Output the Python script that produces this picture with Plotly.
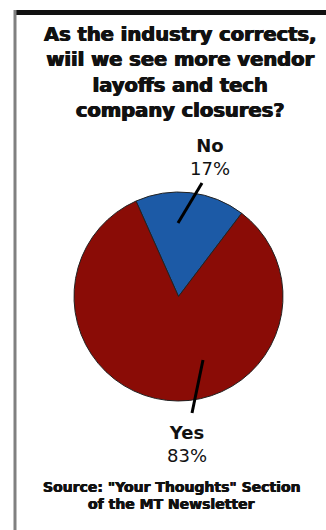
import plotly.graph_objects as go

labels = ["No", "Yes"]
values = [17, 83]
colors = ["#1C5AA6", "#8A0C06"]
title_lines = ["As the industry corrects,", "wiil we see more vendor", "layoffs and tech", "company closures?"]
source_lines = ['Source: "Your Thoughts" Section', "of the MT Newsletter"]

W, H = 326, 530

def px(x):
    return x / W

def py(y):
    return 1 - y / H

fig = go.Figure()
fig.add_trace(go.Pie(
    labels=labels, values=values, sort=False, direction="clockwise",
    rotation=-24,
    marker=dict(colors=colors, line=dict(color="#222222", width=1)),
    textinfo="none", hoverinfo="label+percent", showlegend=False,
    domain=dict(x=[px(74), px(283)], y=[py(401), py(192)]),
))

heavy = "0.6px 0 0 #111, -0.6px 0 0 #111"
font_title = dict(family="DejaVu Sans", size=19.5, color="#111111", shadow=heavy)
annotations = [
    dict(text="<b>" + "<br>".join(title_lines) + "</b>", x=px(180), y=py(73), xref="paper", yref="paper",
         showarrow=False, font=font_title, align="center", xanchor="center", yanchor="middle"),
    dict(text="<b>No</b><br>17%", x=px(210), y=py(157), xref="paper", yref="paper",
         showarrow=False, font=dict(family="DejaVu Sans", size=18, color="#111111"),
         align="center", xanchor="center", yanchor="middle"),
    dict(text="<b>Yes</b><br>83%", x=px(187), y=py(444), xref="paper", yref="paper",
         showarrow=False, font=dict(family="DejaVu Sans", size=18, color="#111111"),
         align="center", xanchor="center", yanchor="middle"),
]
src_y = [487, 504]
src_x = [172, 172]
for line, yy, xx in zip(source_lines, src_y, src_x):
    annotations.append(dict(text="<b>" + line + "</b>", x=px(xx), y=py(yy), xref="paper", yref="paper",
                            showarrow=False,
                            font=dict(family="DejaVu Sans", size=14, color="#111111",
                                      shadow="0.4px 0 0 #111, -0.4px 0 0 #111"),
                            align="center", xanchor="center", yanchor="middle"))

shapes = [
    dict(type="line", xref="paper", yref="paper", x0=px(14), x1=px(326), y0=py(12.5), y1=py(12.5),
         line=dict(color="#111111", width=5)),
    dict(type="line", xref="paper", yref="paper", x0=px(15), x1=px(15), y0=py(10), y1=py(530),
         line=dict(color="#808080", width=3)),
    dict(type="line", xref="paper", yref="paper", x0=px(178), x1=px(202), y0=py(223), y1=py(183),
         line=dict(color="#000000", width=3)),
    dict(type="line", xref="paper", yref="paper", x0=px(203), x1=px(192), y0=py(360), y1=py(413),
         line=dict(color="#000000", width=3)),
]

fig.update_layout(width=W, height=H, margin=dict(l=0, r=0, t=0, b=0),
                  paper_bgcolor="white", plot_bgcolor="white",
                  annotations=annotations, shapes=shapes)
fig.write_html("out.html")
